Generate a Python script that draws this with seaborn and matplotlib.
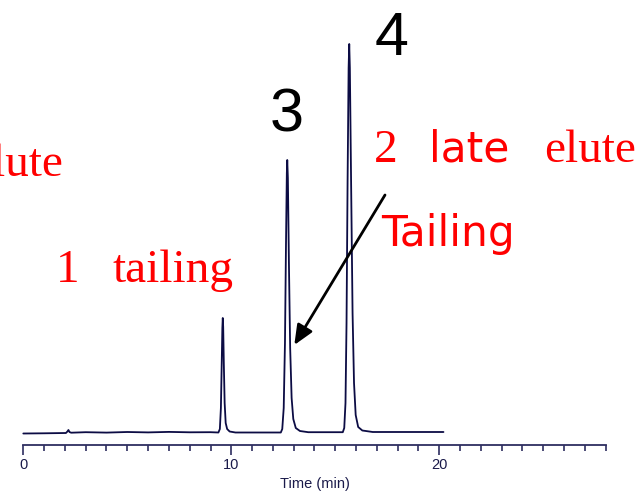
import matplotlib
matplotlib.use("Agg")
import matplotlib.pyplot as plt
import numpy as np
import pandas as pd
import seaborn as sns

# Chromatogram trace: retention time (min) and detector signal (arbitrary units)
time_min = [
    0.00, 1.00, 2.05, 2.12, 2.17, 2.22, 2.30, 3.00, 4.00, 5.00, 6.00, 7.00, 8.00, 9.00,
    9.38, 9.45, 9.50, 9.54, 9.57, 9.59, 9.61, 9.64, 9.68, 9.73, 9.80, 9.92, 10.20,
    11.50, 12.38, 12.45, 12.52, 12.58, 12.63, 12.67, 12.69, 12.72, 12.77, 12.83, 12.90,
    12.98, 13.10, 13.30, 13.70,
    15.00, 15.36, 15.43, 15.49, 15.54, 15.59, 15.64, 15.67, 15.70, 15.76, 15.83, 15.90,
    15.98, 16.10, 16.30, 16.80, 18.00, 20.20,
]
signal = [
    -0.5, -0.3, 0.0, 1.5, 3.0, 1.0, 0.3, 0.8, 0.4, 1.0, 0.6, 1.1, 0.7, 0.8,
    0.5, 4.0, 25.0, 70.0, 105.0, 115.0, 106.0, 70.0, 30.0, 10.0, 4.0, 1.5, 0.5,
    0.5, 0.5, 4.0, 25.0, 90.0, 190.0, 260.0, 273.0, 255.0, 170.0, 85.0, 35.0,
    14.0, 5.0, 2.0, 0.8,
    0.8, 0.8, 5.0, 30.0, 110.0, 250.0, 365.0, 389.0, 365.0, 250.0, 120.0, 50.0,
    18.0, 6.0, 2.5, 1.0, 1.0, 1.0,
]

major_ticks = [0, 10, 20]
minor_ticks = list(range(0, 29))
x_label = "Time (min)"

trace = pd.DataFrame({"Time (min)": time_min, "Signal": signal})

sns.set_style("ticks")
plt.rcParams["font.family"] = ["Liberation Sans", "DejaVu Sans"]

navy = "#0c0c44"
axis_col = "#2e2e60"
red = "#ff0000"

fig = plt.figure(figsize=(6.42, 4.94), dpi=100)
ax = fig.add_axes([0.0, 49.5 / 494, 1.0, 444.5 / 494])

sns.lineplot(data=trace, x="Time (min)", y="Signal", ax=ax, color=navy,
             linewidth=1.3, estimator=None, sort=False)

x0, x1 = -23.3 / 20.8, (642 - 23.3) / 20.8
ax.set_xlim(x0, x1)
ax.set_ylim(-11.5, 433)

# Bottom axis only, running from 0 to 28 min
sns.despine(ax=ax, left=True, top=True, right=True)
ax.spines["bottom"].set_bounds(0, 28)
ax.spines["bottom"].set_color(axis_col)
ax.spines["bottom"].set_linewidth(1.3)
ax.set_yticks([])
ax.set_ylabel("")
ax.set_xticks(major_ticks)
ax.set_xticks(minor_ticks, minor=True)
ax.set_xticklabels([str(t) for t in major_ticks])
ax.tick_params(axis="x", which="major", length=7, width=1.2, color=axis_col,
               labelsize=10.5, labelcolor="#1a1a4a", pad=2.5, direction="out")
ax.tick_params(axis="x", which="minor", length=4, width=1.2, color=axis_col,
               direction="out")
ax.set_xlabel(x_label, fontsize=10.5, color="#1a1a4a")
ax.xaxis.set_label_coords((14 - x0) / (x1 - x0), -0.074)
ax.xaxis.label.set_va("top")


def px_to_data(px, py):
    return (px - 23.3) / 20.8, 433 - py


serif = ["Liberation Serif", "DejaVu Serif"]
sans = ["Liberation Sans", "DejaVu Sans"]
wide_sans = ["DejaVu Sans"]

# Peak numbers
for txt, (px, py) in [("3", (269.5, 131.7)), ("4", (374.5, 55.0))]:
    x, y = px_to_data(px, py)
    ax.text(x, y, txt, fontsize=44, family=sans, color="black",
            ha="left", va="baseline")

# Red annotations
labels = [
    ("elute", serif, 34, (62.7, 176.0), "right"),
    ("1", serif, 34, (56.0, 281.7), "left"),
    ("tailing", serif, 34, (112.5, 281.7), "left"),
    ("2", serif, 34, (374.0, 161.7), "left"),
    ("late", wide_sans, 30.5, (428.7, 161.7), "left"),
    ("elute", serif, 34, (544.0, 161.7), "left"),
    ("Tailing", wide_sans, 30.5, (381.5, 246.0), "left"),
]
for txt, fam, size, (px, py), ha in labels:
    x, y = px_to_data(px, py)
    ax.text(x, y, txt, fontsize=size, family=fam, color=red,
            ha=ha, va="baseline", clip_on=False)

# Arrow pointing at the tail of peak 3
tip = px_to_data(294.3, 345.0)
tail = px_to_data(385.0, 195.0)
ax.annotate("", xy=tip, xytext=tail,
            arrowprops=dict(arrowstyle="-|>,head_length=0.6,head_width=0.26",
                            mutation_scale=20, color="black", lw=2.0,
                            shrinkA=0, shrinkB=0))

fig.savefig("out.png", dpi=100)
